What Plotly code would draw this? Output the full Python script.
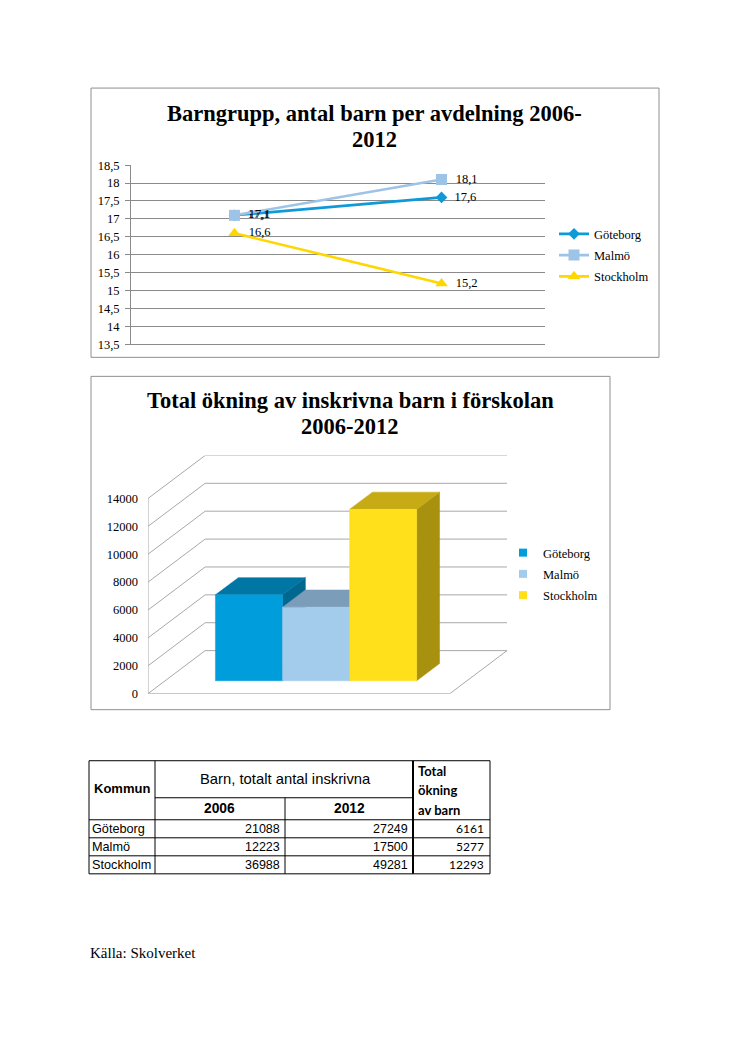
import plotly.graph_objects as go

# ---------------- data ----------------
years = ["2006", "2012"]
grp_goteborg = [17.1, 17.6]
grp_malmo = [17.1, 18.1]
grp_stockholm = [16.6, 15.2]
line_names = ["Göteborg", "Malmö", "Stockholm"]

kommuner = ["Göteborg", "Malmö", "Stockholm"]
barn_2006 = [21088, 12223, 36988]
barn_2012 = [27249, 17500, 49281]
okning = [6161, 5277, 12293]
bar_ticks = [0, 2000, 4000, 6000, 8000, 10000, 12000, 14000]

# ---------------- styles ----------------
W, H = 746, 1056
SERIF = "Liberation Serif"
SANS = "Liberation Sans"
CAL = "Lato"
line_colors = ["#0E9AD8", "#9DC3E6", "#FFD700"]
line_symbols = ["diamond", "square", "triangle-up"]
line_msize = [9, 11, 11]
front_c = ["#009DDC", "#A2CBEC", "#FFE01B"]
top_c = ["#0076A4", "#7B9DB9", "#C6AB14"]
side_c = ["#00678F", "#6F8DA6", "#A8910F"]
GRID1 = "#8A8A8A"
GRID2 = "#A8A8A8"

# vertical placement compensation (page is captured with a small top offset)
Y_OFF = 7.0
Y_SCALE = 1041.0 / 1056.0


def px_x(v):
    return v / W


def px_y(v):
    return 1 - ((v - Y_OFF) / Y_SCALE) / H


fig = go.Figure()

# ---------------- chart 1 : line chart ----------------
for name, vals, col, sym, ms in zip(line_names, [grp_goteborg, grp_malmo, grp_stockholm],
                                    line_colors, line_symbols, line_msize):
    fig.add_trace(go.Scatter(
        x=years, y=vals, name=name, mode="lines+markers+text",
        line=dict(color=col, width=2.6),
        marker=dict(symbol=sym, size=ms, color=col),
        texttemplate="\u2002%{y:.1f}", textposition="middle right",
        textfont=dict(family=SERIF, size=12.5, color="#000000"),
        legend="legend", legendgroup=name,
        xaxis="x", yaxis="y", hoverinfo="skip", cliponaxis=False))

# ---------------- chart 2 : pseudo 3D bar chart ----------------
X_PX = 301.0
Y_PX = 195.0 / 14000.0
DX = 57.0 / X_PX
DY = 43.0 / Y_PX
D0, D1 = 0.3, 0.7
bw = 1.0 / 4.5
x_lo = -0.5
x_hi = 0.5 + DX
y_hi = 14000 + DY


def seg(xs, ys, color=GRID2, width=1):
    fig.add_trace(go.Scatter(x=xs, y=ys, mode="lines", line=dict(color=color, width=width),
                             xaxis="x2", yaxis="y2", showlegend=False, hoverinfo="skip"))


for t in bar_ticks:
    seg([-0.5 + DX, 0.5 + DX], [t + DY, t + DY])
    seg([-0.5, -0.5 + DX], [t, t + DY])
seg([-0.5, -0.5], [0, 14000])
seg([-0.5, 0.5, 0.5 + DX], [0, 0, DY])


def poly(xs, ys, color):
    fig.add_trace(go.Scatter(x=xs + [xs[0]], y=ys + [ys[0]], mode="lines", fill="toself",
                             fillcolor=color, line=dict(color=color, width=0.5),
                             xaxis="x2", yaxis="y2", showlegend=False, hoverinfo="skip"))


for i, v in enumerate(okning):
    xl = -0.5 + 0.75 * bw + i * bw + D0 * DX
    xr = xl + bw
    b0 = D0 * DY
    ddx = (D1 - D0) * DX
    ddy = (D1 - D0) * DY
    poly([xr, xr, xr + ddx, xr + ddx], [b0, v + b0, v + b0 + ddy, b0 + ddy], side_c[i])
    poly([xl, xr, xr + ddx, xl + ddx], [v + b0, v + b0, v + b0 + ddy, v + b0 + ddy], top_c[i])
    poly([xl, xr, xr, xl], [b0, b0, v + b0, v + b0], front_c[i])

for name, col in zip(kommuner, front_c):
    fig.add_trace(go.Scatter(x=[None], y=[None], name=name, mode="markers",
                             marker=dict(symbol="square", size=8, color=col),
                             xaxis="x2", yaxis="y2", legend="legend2", legendgroup="b" + name))

# ---------------- layout ----------------
shapes = []
annotations = []

for (x0, y0, x1, y1) in [(91, 88, 659, 357), (91, 376, 610, 709)]:
    shapes.append(dict(type="rect", xref="paper", yref="paper", x0=px_x(x0), x1=px_x(x1),
                       y0=px_y(y0), y1=px_y(y1), line=dict(color="#8F8F8F", width=1)))


def txt(s, x, y, size, family=SANS, anchor="left"):
    annotations.append(dict(text=s, x=px_x(x), y=px_y(y), xref="paper", yref="paper",
                            showarrow=False, xanchor=anchor, yanchor="middle",
                            font=dict(family=family, size=size, color="#000000")))


txt("<b>Barngrupp, antal barn per avdelning 2006-</b>", 374, 113, 22.5, SERIF, "center")
txt("<b>2012</b>", 374, 139, 22.5, SERIF, "center")
txt("<b>Total ökning av inskrivna barn i förskolan</b>", 350, 400, 22.5, SERIF, "center")
txt("<b>2006-2012</b>", 350, 426, 22.5, SERIF, "center")

TL, TR, TT, TB = 89, 490, 760, 873
c1, c2, c3 = 155, 285, 413
r1, r2, r3, r4 = 797, 819, 837, 855


def hl(x0, x1, y, w=1):
    shapes.append(dict(type="line", xref="paper", yref="paper", x0=px_x(x0), x1=px_x(x1),
                       y0=px_y(y), y1=px_y(y), line=dict(color="#000000", width=w)))


def vl(x, y0, y1, w=1):
    shapes.append(dict(type="line", xref="paper", yref="paper", x0=px_x(x), x1=px_x(x),
                       y0=px_y(y0), y1=px_y(y1), line=dict(color="#000000", width=w)))


hl(TL, TR, TT)
hl(TL, TR, TB)
vl(TL, TT, TB)
vl(TR, TT, TB)
vl(c1, TT, TB)
vl(c2, r1, TB)
vl(c3, TT, TB, 2)
hl(c1, c3, r1)
for r in (r2, r3, r4):
    hl(TL, TR, r)

txt("<b>Kommun</b>", 92, 788, 13)
txt("Barn, totalt antal inskrivna", 285, 778, 14.8, anchor="center")
txt("<b>2006</b>", 220, 808, 13.8, anchor="center")
txt("<b>2012</b>", 349, 808, 13.8, anchor="center")
txt("<b>Total</b>", 416, 770, 13, family=CAL)
txt("<b>ökning</b>", 416, 789, 13, family=CAL)
txt("<b>av barn</b>", 416, 809, 13, family=CAL)
row_y = [828, 846, 864]
for k, y in zip(range(len(kommuner)), row_y):
    txt(kommuner[k], 90, y, 12.7)
    txt(str(barn_2006[k]), 282, y, 12.5, anchor="right")
    txt(str(barn_2012[k]), 410, y, 12.5, anchor="right")
    txt(str(okning[k]), 486, y, 12, family=CAL, anchor="right")

txt("Källa: Skolverket", 88, 952, 15, family=SERIF)

fig.update_layout(
    width=W, height=H, margin=dict(l=0, r=0, t=0, b=0),
    paper_bgcolor="#FFFFFF", plot_bgcolor="#FFFFFF",
    separators=",.",
    showlegend=True,
    shapes=shapes, annotations=annotations,
    xaxis=dict(domain=[px_x(131), px_x(545)], type="category", range=[-0.5, 1.5],
               showgrid=False, zeroline=False, showline=True, linecolor=GRID1,
               showticklabels=False, ticks="", fixedrange=True, anchor="y"),
    yaxis=dict(domain=[px_y(344), px_y(165)], range=[13.5, 18.5], dtick=0.5, tick0=13.5,
               showgrid=True, gridcolor=GRID1, gridwidth=1, zeroline=False,
               showline=True, linecolor=GRID1, ticks="outside", ticklen=5, tickcolor=GRID1,
               ticklabelstandoff=3,
               tickfont=dict(family=SERIF, size=12.5, color="#000000"), anchor="x"),
    xaxis2=dict(domain=[px_x(148), px_x(507)], range=[x_lo, x_hi], visible=False,
                fixedrange=True, anchor="y2"),
    yaxis2=dict(domain=[px_y(693), px_y(455)], range=[0, y_hi], tickvals=bar_ticks,
                tickformat="d", showgrid=False, zeroline=False, showline=False,
                ticks="", ticklabelstandoff=9,
                tickfont=dict(family=SERIF, size=12.5, color="#000000"), anchor="x2"),
    legend=dict(x=px_x(554), y=px_y(219), xanchor="left", yanchor="top",
                font=dict(family=SERIF, size=12.5, color="#000000"), tracegroupgap=2,
                bgcolor="rgba(0,0,0,0)"),
    legend2=dict(x=px_x(503), y=px_y(537.5), xanchor="left", yanchor="top",
                 font=dict(family=SERIF, size=12.5, color="#000000"), tracegroupgap=2,
                 bgcolor="rgba(0,0,0,0)"),
)

fig.write_html(
    "out.html",
    config={"displayModeBar": False},
    post_script="document.body.style.margin='0px';document.body.style.padding='0px';"
                "document.documentElement.style.overflow='hidden';",
)
